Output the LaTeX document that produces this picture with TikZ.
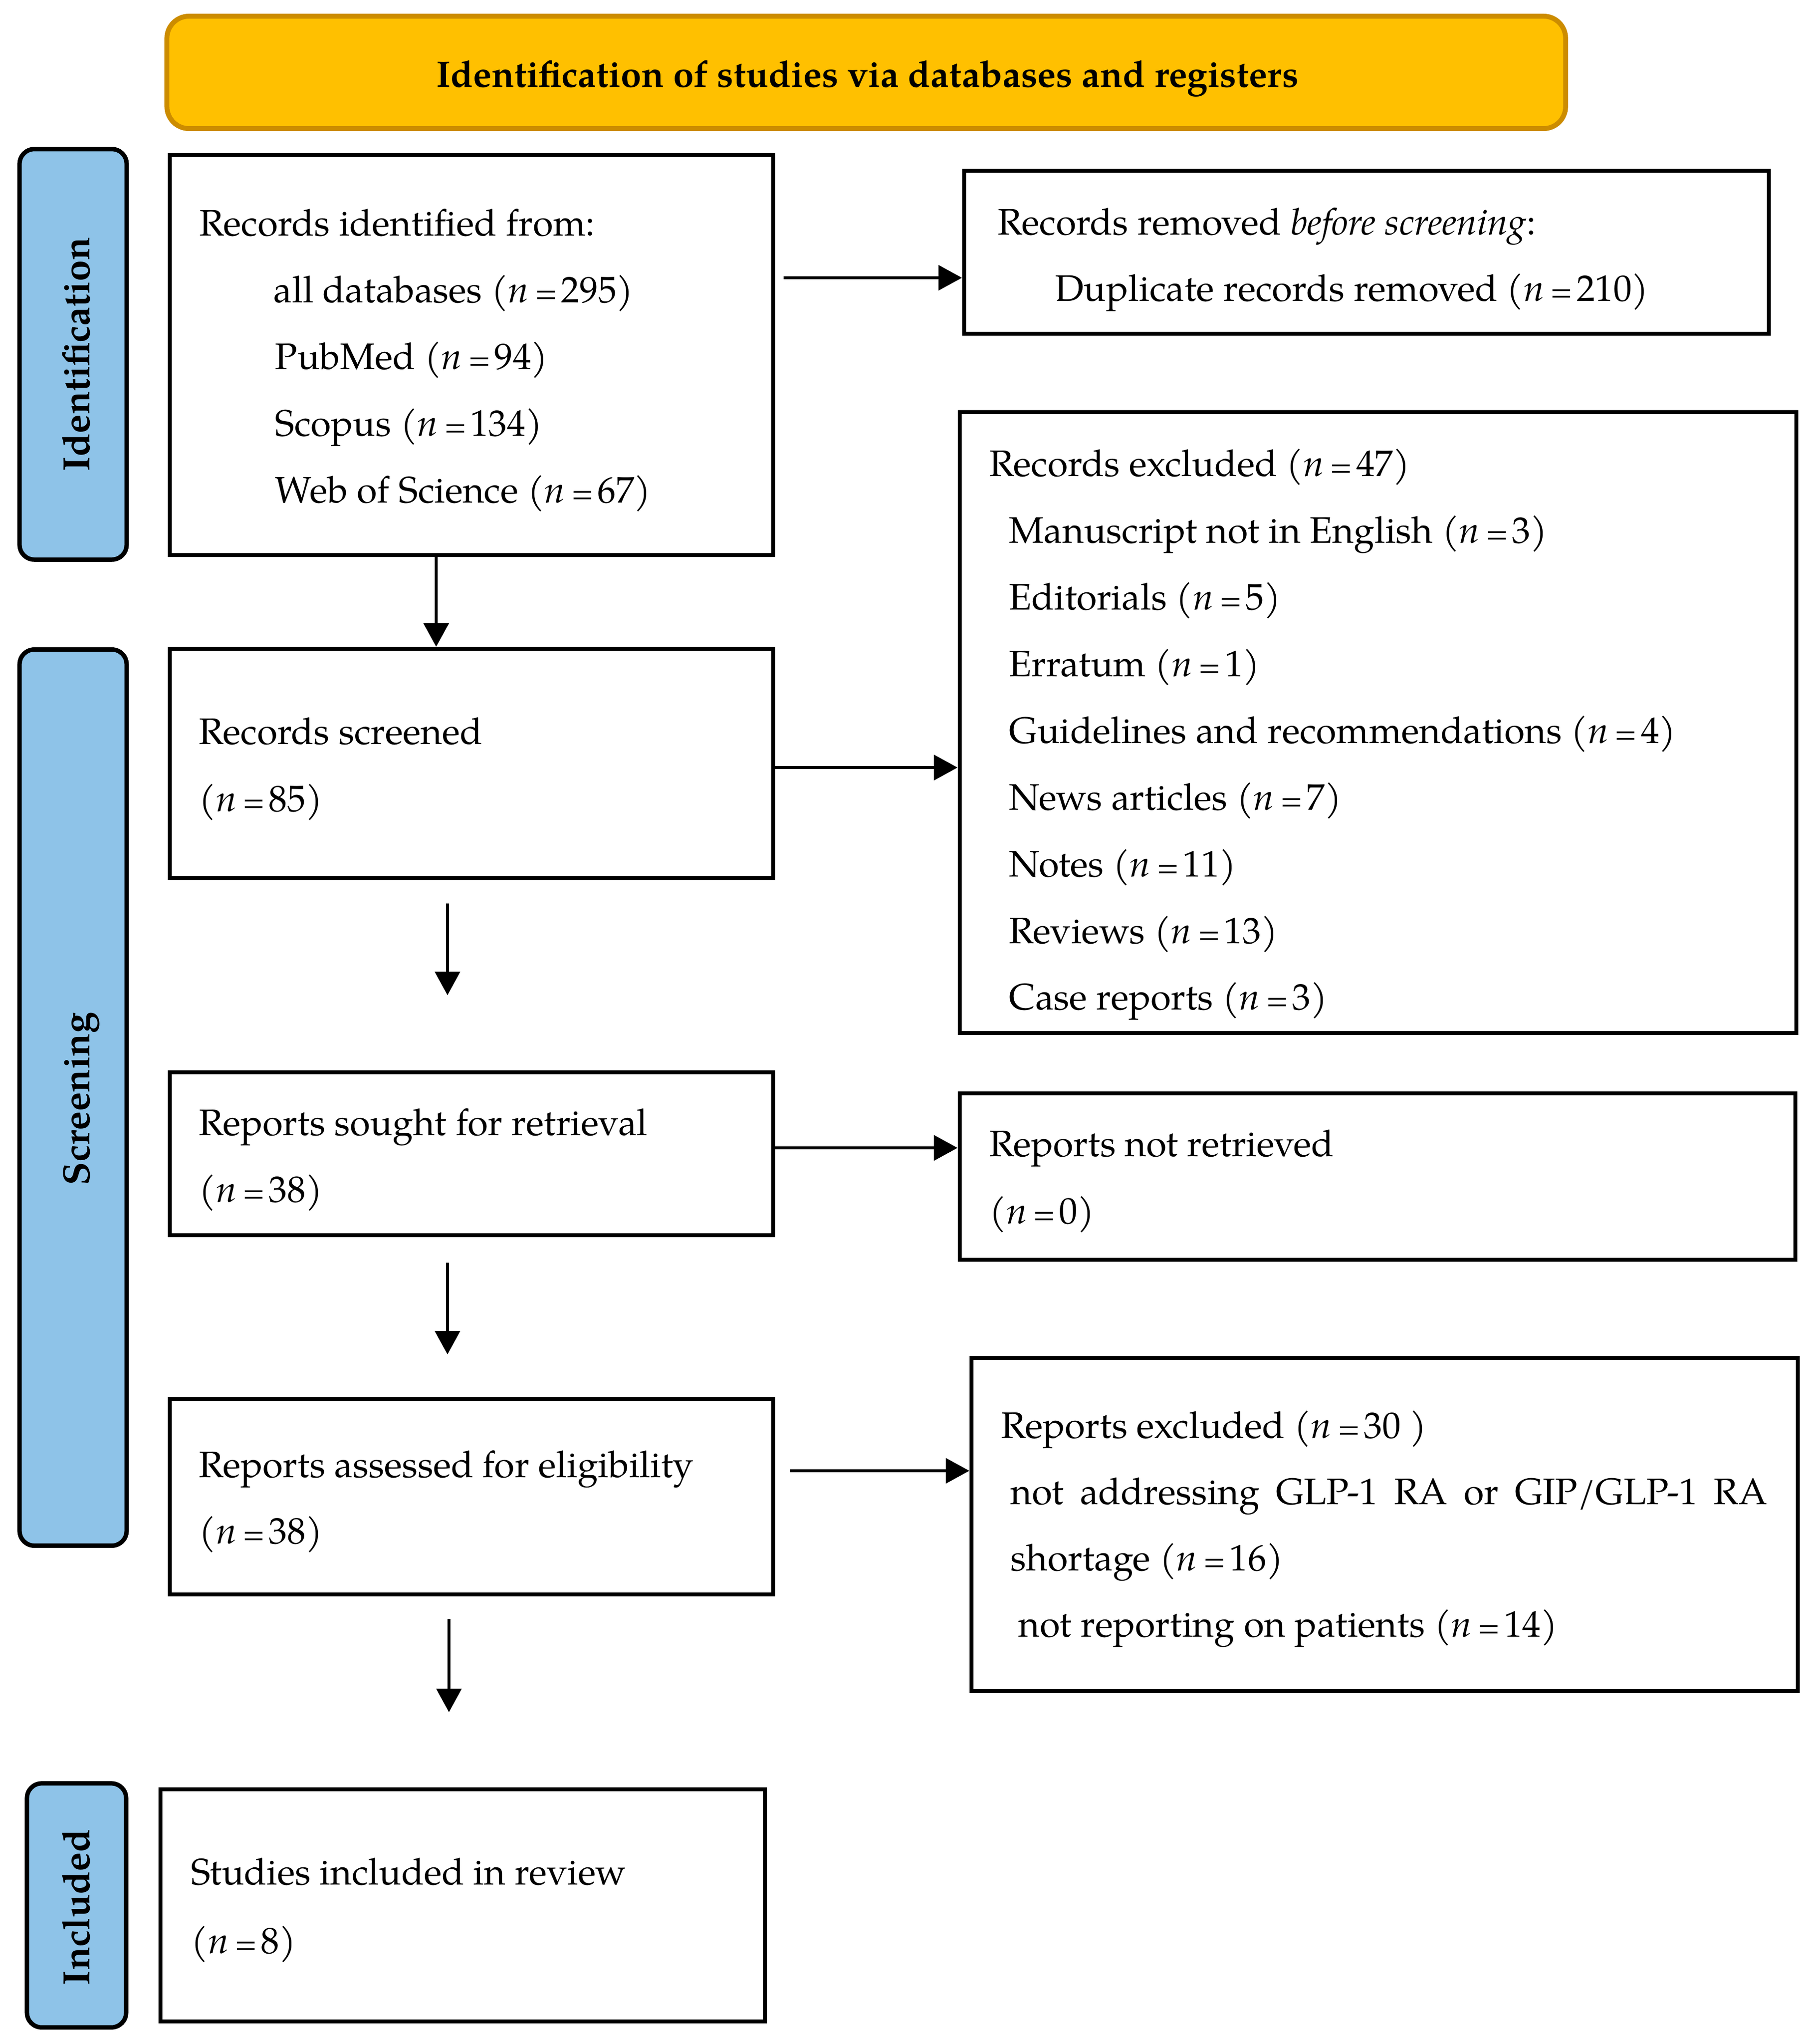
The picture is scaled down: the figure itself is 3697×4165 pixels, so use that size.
\documentclass[tikz,border=0pt]{standalone}
\usepackage{fontspec}
\setmainfont{texgyrepagella}[Extension=.otf,UprightFont=*-regular,BoldFont=*-bold,ItalicFont=*-italic,BoldItalicFont=*-bolditalic]
\usetikzlibrary{arrows.meta}
\definecolor{orangefill}{RGB}{255,192,0}
\definecolor{orangeline}{RGB}{204,140,0}
\definecolor{bluefill}{RGB}{142,195,232}
\newcommand{\nn}{{\itshape n}\hspace{0.17em}\scalebox{0.8}{=}\hspace{0.1em}}
\begin{document}
\begin{tikzpicture}[x=0.01cm,y=-0.01cm,
  box/.style={draw=black,line width=0.08cm,inner sep=0pt,rectangle},
  side/.style={draw=black,fill=bluefill,line width=0.09cm,rounded corners=0.3cm,inner sep=0pt},
  txt/.style={anchor=base west,inner sep=0pt,font=\fontsize{21.4}{26}\selectfont},
  sidetxt/.style={anchor=base,inner sep=0pt,rotate=90,font=\fontsize{22}{26}\selectfont\bfseries},
  arr/.style={line width=0.055cm,-{Triangle[length=0.48cm,width=0.51cm]}}]
\useasboundingbox (0,0) rectangle (3697,4165);

% header
\node[draw=orangeline,fill=orangefill,line width=0.1cm,rounded corners=0.45cm,
      minimum width=28.49cm,minimum height=2.29cm,inner sep=0pt] (head) at (1765.5,147.5) {};
\node[anchor=base,inner sep=0pt,font=\fontsize{21.4}{26}\selectfont\bfseries] (headt) at (1768,177)
  {Identification of studies via databases and registers};

% side bars
\node[side,minimum width=2.18cm,minimum height=8.36cm] (sid) at (149,722) {};
\node[sidetxt] (sidt) at (182,722) {Identification};
\node[side,minimum width=2.18cm,minimum height=18.25cm] (sscr) at (149,2236.5) {};
\node[sidetxt] (sscrt) at (182,2239) {Screening};
\node[side,minimum width=2.02cm,minimum height=4.97cm] (sinc) at (156,3882.5) {};
\node[sidetxt] (sinct) at (182,3886) {Included};

% boxes
\node[box,minimum width=12.30cm,minimum height=8.15cm] (ident) at (961,723.5) {};
\node[box,minimum width=12.30cm,minimum height=4.67cm] (scr) at (961,1555.5) {};
\node[box,minimum width=12.30cm,minimum height=3.32cm] (sought) at (961,2351) {};
\node[box,minimum width=12.30cm,minimum height=3.98cm] (assess) at (961,3050) {};
\node[box,minimum width=12.32cm,minimum height=4.73cm] (incl) at (943,3882.5) {};
\node[box,minimum width=16.39cm,minimum height=3.32cm] (rem) at (2784.5,514) {};
\node[box,minimum width=17.04cm,minimum height=12.65cm] (rexcl) at (2808,1472.5) {};
\node[box,minimum width=17.02cm,minimum height=3.39cm] (notr) at (2807,2397.5) {};
\node[box,minimum width=16.83cm,minimum height=6.79cm] (pexcl) at (2821.5,3106.5) {};

% texts: identified
\node[txt] (i1) at (406,480) {Records identified from:};
\node[txt] (i2) at (557,616) {all databases (\nn 295)};
\node[txt] (i3) at (560,752) {PubMed (\nn 94)};
\node[txt] (i4) at (560,888) {Scopus (\nn 134)};
\node[txt] (i5) at (560,1024) {Web of Science (\nn 67)};
% removed
\node[txt] (r1) at (2033,478) {Records removed \textit{before screening}:};
\node[txt] (r2) at (2150,613) {Duplicate records removed (\nn 210)};
% records excluded
\node[txt] (e1) at (2016,970) {Records excluded (\nn 47)};
\node[txt] (e2) at (2056,1106) {Manuscript not in English (\nn 3)};
\node[txt] (e3) at (2056,1242) {Editorials (\nn 5)};
\node[txt] (e4) at (2056,1378) {Erratum (\nn 1)};
\node[txt] (e5) at (2056,1514) {Guidelines and recommendations (\nn 4)};
\node[txt] (e6) at (2056,1650) {News articles (\nn 7)};
\node[txt] (e7) at (2056,1786) {Notes (\nn 11)};
\node[txt] (e8) at (2056,1922) {Reviews (\nn 13)};
\node[txt] (e9) at (2056,2057) {Case reports (\nn 3)};
% screened
\node[txt] (s1) at (405,1516) {Records screened};
\node[txt] (s2) at (405,1653) {(\nn 85)};
% sought
\node[txt] (o1) at (405,2313) {Reports sought for retrieval};
\node[txt] (o2) at (405,2449) {(\nn 38)};
% not retrieved
\node[txt] (n1) at (2016,2356) {Reports not retrieved};
\node[txt] (n2) at (2016,2493) {(\nn 0)};
% assessed
\node[txt] (a1) at (405,3010) {Reports assessed for eligibility};
\node[txt] (a2) at (405,3145) {(\nn 38)};
% reports excluded
\node[txt] (p1) at (2040,2930) {Reports excluded (\nn 30 )};
\node[txt] (p2) at (2059,3065) {\makebox[15.41cm][s]{not addressing GLP-1 RA or GIP/GLP-1 RA}};
\node[txt] (p3) at (2059,3200) {shortage (\nn 16)};
\node[txt] (p4) at (2075,3335) {not reporting on patients (\nn 14)};
% included
\node[txt] (c1) at (389,3840) {Studies included in review};
\node[txt] (c2) at (389,3980) {(\nn 8)};

% arrows
\coordinate (a1s) at (1597,566);
\draw[arr] (a1s) -- (a1s -| rem.west);
\draw[arr] ([xshift=-0.72cm]ident.south) -- ([xshift=-0.72cm]scr.north);
\draw[arr] ([yshift=-0.085cm]scr.east) coordinate (a3s) -- (a3s -| rexcl.west);
\draw[arr,shorten <=0.48cm,shorten >=1.53cm] ([xshift=-0.49cm]scr.south) -- ([xshift=-0.49cm]sought.north);
\draw[arr] ([yshift=0.12cm]sought.east) coordinate (a5s) -- (a5s -| notr.west);
\draw[arr,shorten <=0.52cm,shorten >=0.87cm] ([xshift=-0.49cm]sought.south) -- ([xshift=-0.49cm]assess.north);
\draw[arr,shorten <=0.30cm] ([yshift=0.53cm]assess.east) coordinate (a7s) -- (a7s -| pexcl.west);
\draw[arr,shorten <=0.46cm,shorten >=1.53cm] ([xshift=-0.46cm]assess.south) coordinate (a8s) -- (a8s |- incl.north);
\end{tikzpicture}
\end{document}
